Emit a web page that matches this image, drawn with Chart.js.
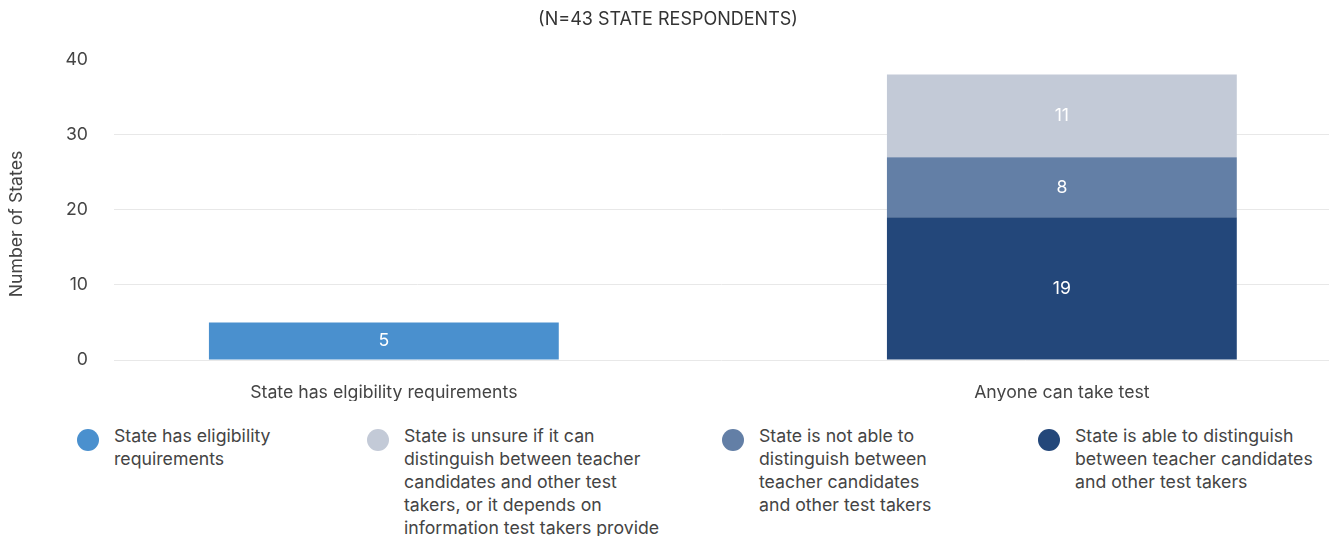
<!DOCTYPE html>
<html>
<head>
<meta charset="utf-8">
<script src="https://cdn.jsdelivr.net/npm/chart.js@4"></script>
<style>
  html, body { margin: 0; padding: 0; background: #fff; }
  body { width: 1329px; height: 536px; position: relative; overflow: hidden; font-family: Inter, sans-serif; }
  #wrap { position: absolute; left: 0; top: 0; width: 1329px; height: 420px; }
  .legend-item { position: absolute; top: 424px; color: #444; font-size: 17.7px; line-height: 23px; }
  .legend-item .dot { position: absolute; left: -37px; top: 5px; width: 22px; height: 22px; border-radius: 50%; }
</style>
</head>
<body>
<div id="wrap"><canvas id="chart"></canvas></div>
<div id="legend"></div>
<script>
const categories = ['State has elgibility requirements', 'Anyone can take test'];

const seriesNames = [
    'State has eligibility requirements',
    'State is unsure if it can distinguish between teacher candidates and other test takers, or it depends on information test takers provide',
    'State is not able to distinguish between teacher candidates and other test takers',
    'State is able to distinguish between teacher candidates and other test takers'
];

const hasRequirements = [5, null];
const unsure = [null, 11];
const notAble = [null, 8];
const able = [null, 19];

const yTicks = [0, 10, 20, 30, 40];

const colors = {
    hasRequirements: '#4A90CE',
    unsure: '#C3CAD7',
    notAble: '#637FA6',
    able: '#23477A'
};

function points(values) {
    return values.map((v, i) => ({ x: i, y: v }));
}

// legend is drawn in html so long names can wrap
const legendSpots = [
    { left: 114, width: 240, color: colors.hasRequirements },
    { left: 404, width: 260, color: colors.unsure },
    { left: 759, width: 177, color: colors.notAble },
    { left: 1075, width: 245, color: colors.able }
];
const legend = document.getElementById('legend');
seriesNames.forEach((name, i) => {
    const item = document.createElement('div');
    item.className = 'legend-item';
    item.style.left = legendSpots[i].left + 'px';
    item.style.width = legendSpots[i].width + 'px';
    const dot = document.createElement('span');
    dot.className = 'dot';
    dot.style.background = legendSpots[i].color;
    item.appendChild(dot);
    item.appendChild(document.createTextNode(name));
    legend.appendChild(item);
});

const barLabels = {
    id: 'barLabels',
    afterDatasetsDraw(chart) {
        const ctx = chart.ctx;
        ctx.save();
        ctx.fillStyle = '#fff';
        ctx.font = '17.7px Inter';
        ctx.textAlign = 'center';
        ctx.textBaseline = 'middle';
        chart.data.datasets.forEach((ds, di) => {
            const meta = chart.getDatasetMeta(di);
            meta.data.forEach((bar, i) => {
                const v = ds.data[i].y;
                if (v === null) return;
                ctx.fillText(v, bar.x, (bar.y + bar.base) / 2);
            });
        });
        // y axis title, a bit lower than chart.js would centre it
        ctx.fillStyle = '#444';
        ctx.translate(17, 224);
        ctx.rotate(-Math.PI / 2);
        ctx.fillText('Number of States', 0, 0);
        ctx.restore();
    }
};

Chart.defaults.font.family = 'Inter';
Chart.defaults.color = '#444';

new Chart(document.getElementById('chart'), {
    type: 'bar',
    data: {
        datasets: [
            { label: seriesNames[0], data: points(hasRequirements), backgroundColor: colors.hasRequirements },
            { label: seriesNames[3], data: points(able), backgroundColor: colors.able },
            { label: seriesNames[2], data: points(notAble), backgroundColor: colors.notAble },
            { label: seriesNames[1], data: points(unsure), backgroundColor: colors.unsure }
        ]
    },
    plugins: [barLabels],
    options: {
        responsive: true,
        maintainAspectRatio: false,
        animation: false,
        barPercentage: 0.516,
        categoryPercentage: 1,
        layout: { padding: { left: 7, right: 0, top: 0, bottom: 19 } },
        scales: {
            x: {
                type: 'linear',
                stacked: true,
                offset: false,
                min: -0.398,
                max: 1.394,
                grid: { display: false, drawTicks: false },
                border: { display: false },
                afterBuildTicks: (scale) => {
                    scale.ticks = categories.map((c, i) => ({ value: i }));
                },
                afterFit: (scale) => { scale.height = 41; },
                ticks: {
                    autoSkip: false,
                    maxRotation: 0,
                    padding: 22,
                    font: { size: 17.7 },
                    callback: (v) => categories[v]
                }
            },
            y: {
                stacked: true,
                min: 0,
                max: 40,
                afterBuildTicks: (scale) => {
                    scale.ticks = yTicks.map(v => ({ value: v }));
                },
                afterFit: (scale) => { scale.width = 107; },
                grid: {
                    drawTicks: false,
                    color: (c) => c.tick && c.tick.value === 40 ? 'rgba(0,0,0,0)' : '#e8e8e8'
                },
                border: { display: false },
                ticks: { padding: 26, font: { size: 17.7 } }
            }
        },
        plugins: {
            legend: { display: false },
            tooltip: { enabled: false },
            title: {
                display: true,
                text: '(N=43 STATE RESPONDENTS)',
                color: '#333',
                font: { size: 18, weight: 'normal' },
                padding: { top: 9, bottom: 29 }
            }
        }
    }
});
</script>
</body>
</html>
